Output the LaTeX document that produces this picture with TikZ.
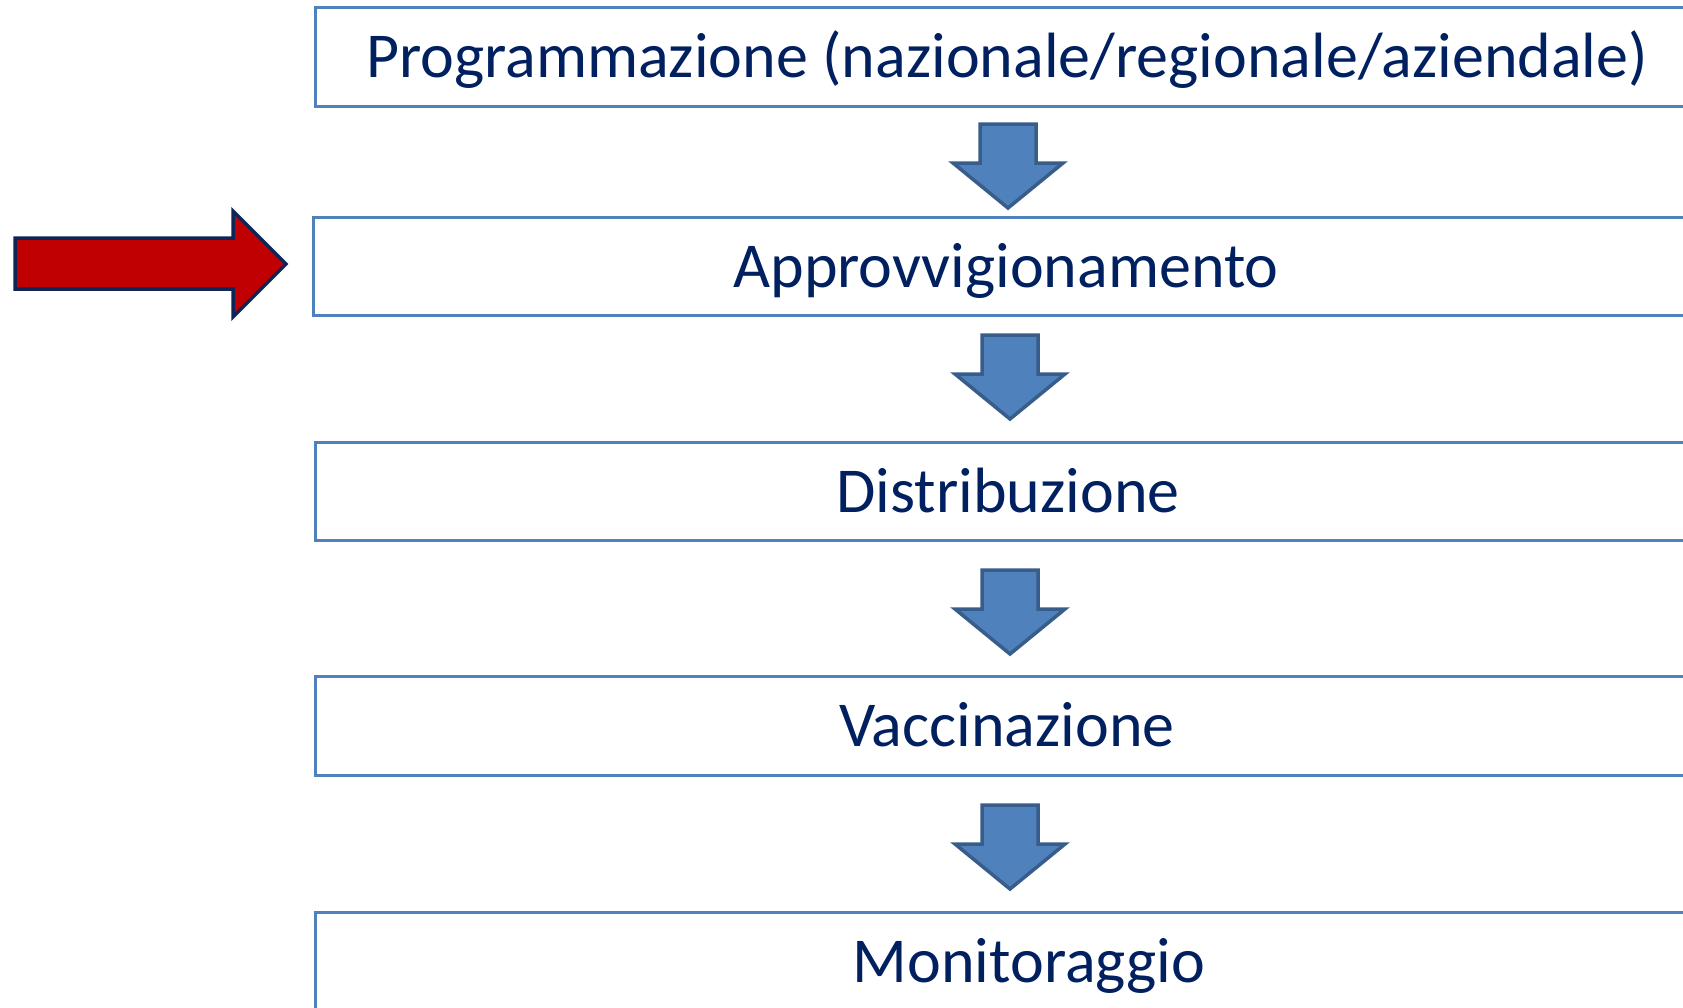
\documentclass[tikz,border=0pt]{standalone}
\usepackage{fontspec}
\setmainfont{Carlito}
\definecolor{boxblue}{HTML}{4F81BD}
\definecolor{arrowline}{HTML}{385D8A}
\definecolor{txtnavy}{HTML}{002060}
\definecolor{redfill}{HTML}{C00000}
\definecolor{redline}{HTML}{0F2557}
\begin{document}
\begin{tikzpicture}[x=1pt,y=-1pt,
  stagebox/.style={draw=boxblue,line width=3pt,fill=white},
  stagetext/.style={anchor=base,text=txtnavy,font=\fontsize{64}{77}\selectfont,inner sep=0pt},
  downarrow/.style={fill=boxblue,draw=arrowline,line width=3.5pt,line join=miter},
  redarrow/.style={fill=redfill,draw=redline,line width=3.5pt,line join=miter}]
\useasboundingbox (0,0) rectangle (1683,1007);
\clip (0,0) rectangle (1683,1007);
% boxes
\draw[stagebox] (315,7) rectangle (1720,106);
\draw[stagebox] (313,217) rectangle (1720,315);
\draw[stagebox] (315,442) rectangle (1720,540);
\draw[stagebox] (315,676) rectangle (1720,775);
\draw[stagebox] (315,912) rectangle (1720,1030);
% texts
\node[stagetext] (t1) at (1007,77) {Programmazione (nazionale/regionale/aziendale)};
\node[stagetext] (t2) at (1006,287) {Approvvigionamento};
\node[stagetext] (t3) at (1008,512) {Distribuzione};
\node[stagetext] (t4) at (1007,746) {Vaccinazione};
\node[stagetext] (t5) at (1029,982) {Monitoraggio};
% down arrows
\foreach \cx/\T in {1008/124, 1010/335, 1010/570, 1010/805}{
  \draw[downarrow] (\cx-28,\T) -- (\cx+28,\T) -- (\cx+28,\T+39) -- (\cx+55,\T+39)
    -- (\cx,\T+84) -- (\cx-55,\T+39) -- (\cx-28,\T+39) -- cycle;
}
% red arrow
\draw[redarrow] (15,238) -- (233,238) -- (233,211) -- (286,264) -- (233,317)
  -- (233,289) -- (15,289) -- cycle;
\end{tikzpicture}
\end{document}
